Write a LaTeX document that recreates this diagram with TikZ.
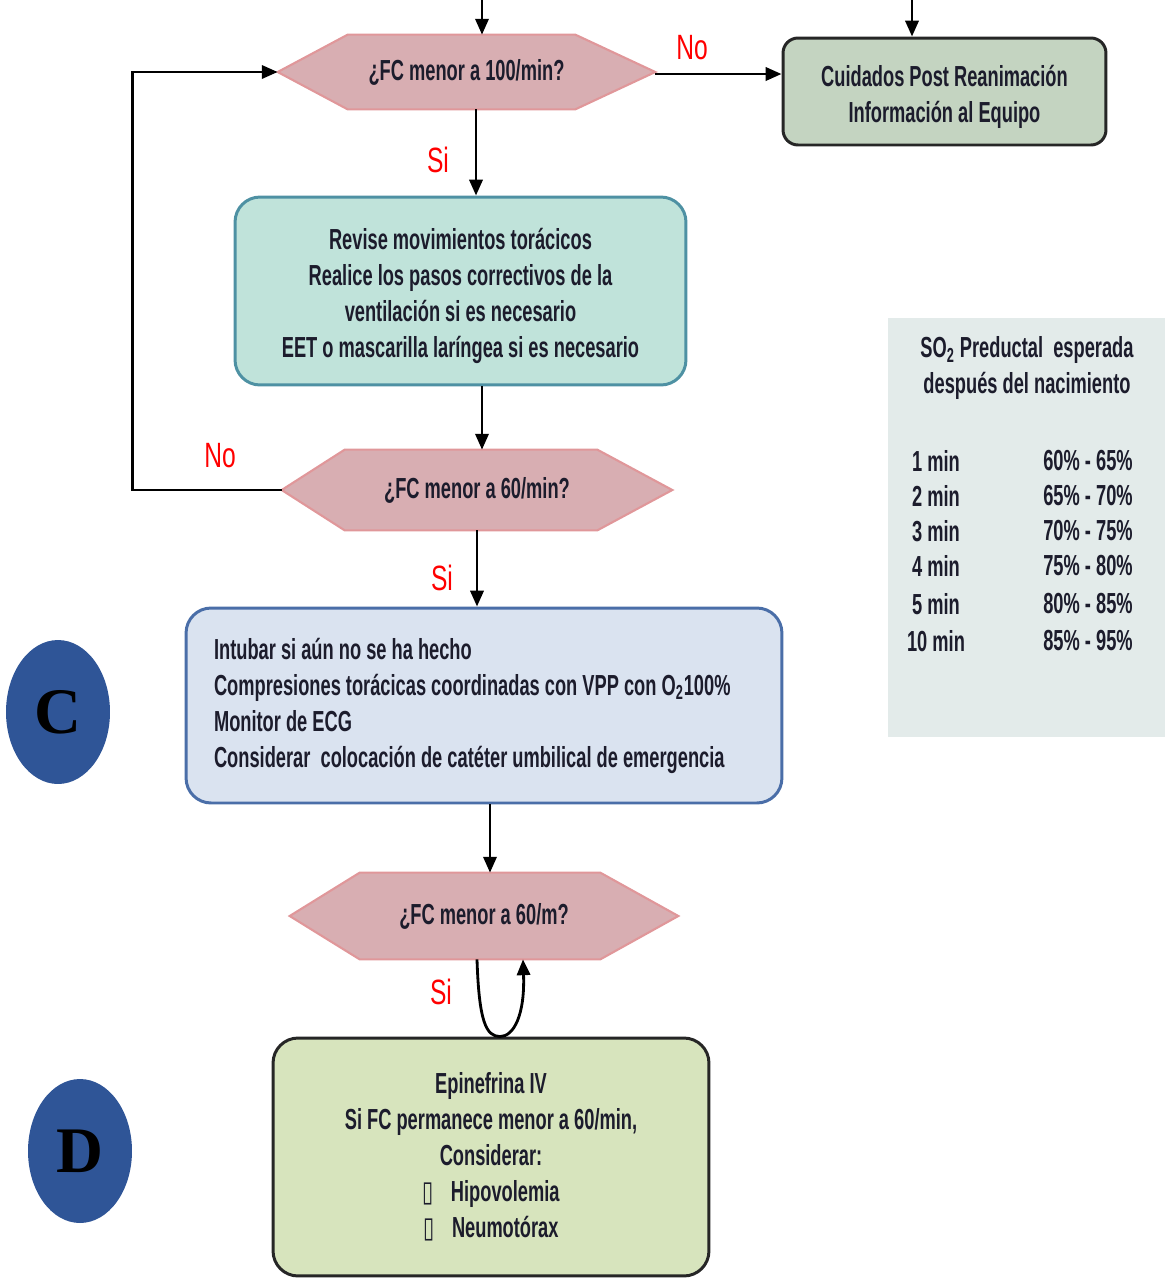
\documentclass[tikz,border=0pt]{standalone}
\usepackage{fontspec}
\setmainfont{Liberation Sans}[UprightFont=* Bold,FakeStretch=0.63]
\newfontfamily\labelfont{Liberation Sans}[FakeStretch=0.7]
\newfontfamily\glyphfont{DejaVu Sans}[FakeStretch=0.7]
\newfontfamily\letterfont{Liberation Serif}
\usetikzlibrary{arrows.meta,backgrounds,shapes.geometric}

\definecolor{txt}{HTML}{1C1C2C}
\definecolor{hexfill}{HTML}{D8AEB2}
\definecolor{hexline}{HTML}{E0979A}
\definecolor{postfill}{HTML}{C4D4C1}
\definecolor{revfill}{HTML}{C0E3DA}
\definecolor{revline}{HTML}{4E91A3}
\definecolor{cfill}{HTML}{DAE3F0}
\definecolor{cline}{HTML}{4A6EA8}
\definecolor{dfill}{HTML}{D7E4BD}
\definecolor{panel}{HTML}{E3EBEA}
\definecolor{badge}{HTML}{2F5597}

\newcommand\bodysize{\fontsize{16.5}{20.5}\selectfont}
\newcommand\bx{{\glyphfont ▯}\hspace{0.6em}}

\begin{document}
\begin{tikzpicture}[x=0.02cm,y=-0.02cm,
  every node/.style={text=txt,font=\bodysize},
  hexnode/.style={inner sep=0pt},
  hexshape/.style={fill=hexfill,draw=hexline,line width=1.2pt,line join=miter},
  flowbox/.style={rounded corners=0.5cm,line width=1.7pt,align=center,inner sep=0pt},
  boxtext/.style={align=center,inner sep=0pt,yshift=-0.1cm},
  arr/.style={line width=1.6pt,-{Triangle[length=9pt,width=7.5pt]}},
  answer/.style={text=red,font=\labelfont\fontsize{20}{22}\selectfont},
  badgeshape/.style={ellipse,fill=badge,minimum width=2.08cm,minimum height=2.88cm,inner sep=0pt,
    font=\letterfont\bfseries\fontsize{37}{40}\selectfont,text=black},
  tablecell/.style={inner sep=0pt,anchor=center}]
\useasboundingbox (0,0) rectangle (1165,1279);

% decisions
\node[hexnode,minimum width=7.54cm,minimum height=1.48cm] (d1) at (466.5,72) {¿FC menor a 100/min?};
\node[hexnode,minimum width=7.8cm,minimum height=1.6cm] (d2) at (477,490) {¿FC menor a 60/min?};
\node[hexnode,minimum width=7.76cm,minimum height=1.72cm] (d3) at (484,916) {¿FC menor a 60/m?};
\begin{scope}[on background layer]
  \path[hexshape] (d1.west) -- ([xshift=1.4cm]d1.north west) -- ([xshift=-1.6cm]d1.north east) -- (d1.east)
    -- ([xshift=-1.6cm]d1.south east) -- ([xshift=1.4cm]d1.south west) -- cycle;
  \path[hexshape] (d2.west) -- ([xshift=1.26cm]d2.north west) -- ([xshift=-1.5cm]d2.north east) -- (d2.east)
    -- ([xshift=-1.5cm]d2.south east) -- ([xshift=1.26cm]d2.south west) -- cycle;
  \path[hexshape] (d3.west) -- ([xshift=1.4cm]d3.north west) -- ([xshift=-1.56cm]d3.north east) -- (d3.east)
    -- ([xshift=-1.56cm]d3.south east) -- ([xshift=1.4cm]d3.south west) -- cycle;
\end{scope}

% action boxes
\node[flowbox,fill=postfill,draw=black!85,minimum width=6.46cm,minimum height=2.14cm,rounded corners=0.3cm]
  (post) at (944.5,91.5) {};
\node[boxtext] (posttext) at (post.center) {Cuidados Post Reanimación\\Información al Equipo};
\node[flowbox,fill=revfill,draw=revline,minimum width=9.02cm,minimum height=3.76cm]
  (rev) at (460.5,291) {};
\node[boxtext] (revtext) at (rev.center) {Revise movimientos torácicos\\Realice los pasos correctivos de la\\ventilación si es necesario\\EET o mascarilla laríngea si es necesario};
\node[flowbox,fill=cfill,draw=cline,minimum width=11.92cm,minimum height=3.9cm,align=flush left,
  text width=10.8cm,inner xsep=0.56cm]
  (comp) at (484,705.5) {Intubar si aún no se ha hecho\\Compresiones torácicas coordinadas con VPP con O\textsubscript{2}100\%\\Monitor de ECG\\Considerar\ \ colocación de catéter umbilical de emergencia};
\node[flowbox,fill=dfill,draw=black!85,minimum width=8.72cm,minimum height=4.76cm]
  (epi) at (491,1157) {Epinefrina IV\\Si FC permanece menor a 60/min,\\Considerar:\\\bx Hipovolemia\\\bx Neumotórax};

% saturation panel
\fill[panel] (888,318) rectangle (1165,737);
\node[align=center,inner sep=0pt] (sotitle) at (1027,368) {SO\textsubscript{2} Preductal\ \ esperada\\después del nacimiento};
\foreach \i/\t/\v/\y in {1/1 min/60\% - 65\%/461,2/2 min/65\% - 70\%/496,3/3 min/70\% - 75\%/531,
                         4/4 min/75\% - 80\%/566,5/5 min/80\% - 85\%/604,6/10 min/85\% - 95\%/641}{
  \node[tablecell] (tm\i) at (936,\y) {\t};
  \node[tablecell] (tv\i) at (1088,\y) {\v};
}

% step badges
\node[badgeshape] (badgeC) at (58,712) {C};
\node[badgeshape] (badgeD) at (80,1151) {D};

% connectors
\coordinate (in1) at (482,0);
\coordinate (in2) at (912,0);
\draw[arr] (in1) -- (in1 |- d1.north);
\draw[arr] (in2) -- (in2 |- post.north);
\draw[arr] ([yshift=-0.04cm]d1.east) -- ([yshift=-0.04cm]d1.east -| post.west);
\draw[arr] ([xshift=0.19cm]d1.south) -- ([xshift=0.19cm]d1.south |- rev.north);
\draw[arr] ([xshift=0.43cm]rev.south) -- ([xshift=0.43cm]rev.south |- d2.north);
\draw[arr] (d2.west) -- ++(-149,0) |- (d1.west);
\draw[arr] (d2.south) -- (d2.south |- comp.north);
\draw[arr] ([xshift=0.12cm]comp.south) -- ([xshift=0.12cm]comp.south |- d3.north);
\coordinate (loopA) at ([xshift=-0.14cm]d3.south);
\coordinate (loopB) at ([xshift=0.18cm]epi.north);
\coordinate (loopC) at ([xshift=0.78cm]d3.south);
\draw[arr] (loopA) .. controls +(2,62) and +(-14,0) .. (loopB) .. controls +(14,0) and +(2,55) .. (loopC);

% answers
\node[answer] (no1) at (692,48) {No};
\node[answer] (si1) at (438,160) {Si};
\node[answer] (no2) at (220,456) {No};
\node[answer] (si2) at (442,578) {Si};
\node[answer] (si3) at (441,992) {Si};
\end{tikzpicture}
\end{document}
